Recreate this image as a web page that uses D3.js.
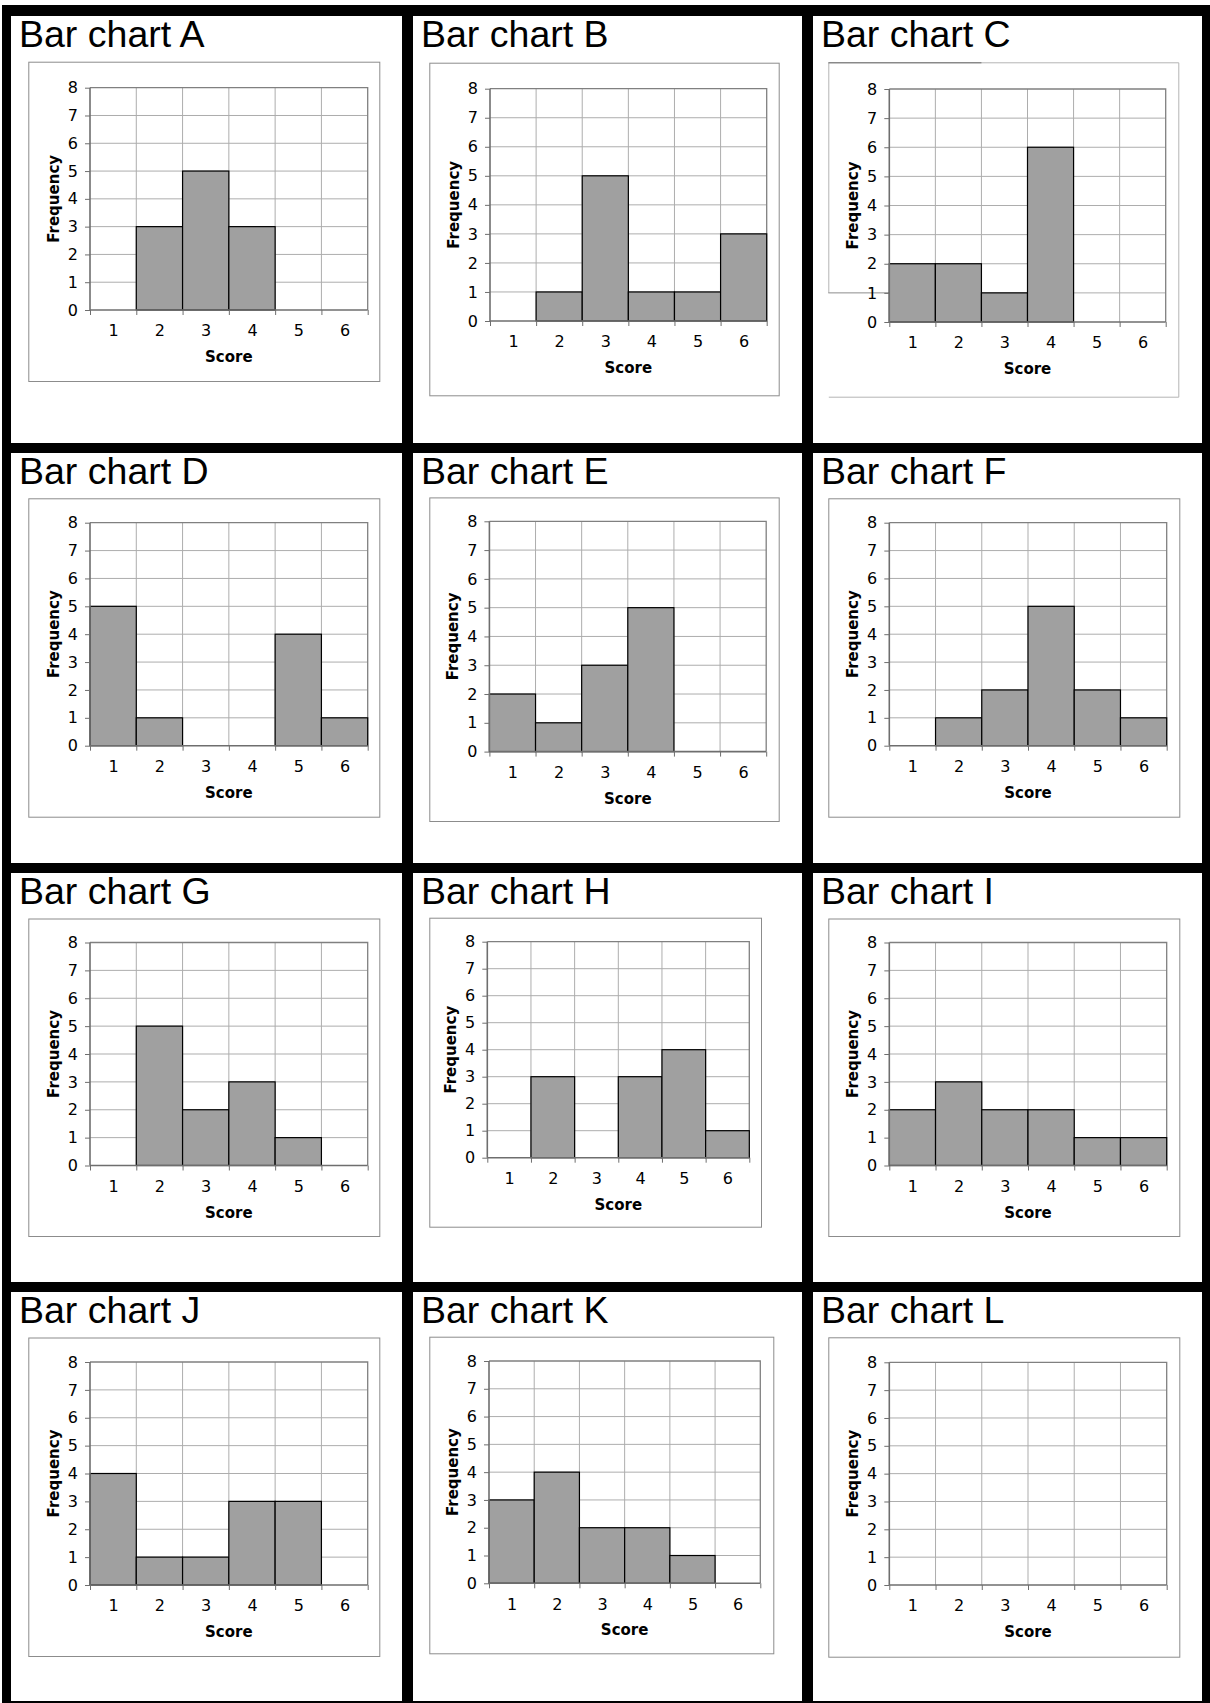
<!DOCTYPE html>
<html><head><meta charset="utf-8">
<script src="https://cdn.jsdelivr.net/npm/d3@7"></script>
<style>body{margin:0;background:#fff}svg{display:block}</style>
</head><body>
<svg id="c" width="1210" height="1703"></svg>
<script>
// ---- data ----
const scores = [1, 2, 3, 4, 5, 6];
const yTicks = [0, 1, 2, 3, 4, 5, 6, 7, 8];
const chartNames = ["A","B","C","D","E","F","G","H","I","J","K","L"];
const freqA = [0, 3, 5, 3, 0, 0];
const freqB = [0, 1, 5, 1, 1, 3];
const freqC = [2, 2, 1, 6, 0, 0];
const freqD = [5, 1, 0, 0, 4, 1];
const freqE = [2, 1, 3, 5, 0, 0];
const freqF = [0, 1, 2, 5, 2, 1];
const freqG = [0, 5, 2, 3, 1, 0];
const freqH = [0, 3, 0, 3, 4, 1];
const freqI = [2, 3, 2, 2, 1, 1];
const freqJ = [4, 1, 1, 3, 3, 0];
const freqK = [3, 4, 2, 2, 1, 0];
const freqL = [0, 0, 0, 0, 0, 0];
const xTitle = "Score";
const yTitle = "Frequency";

// ---- layout ----
const series = [freqA,freqB,freqC,freqD,freqE,freqF,freqG,freqH,freqI,freqJ,freqK,freqL];
const colX = [[11, 402], [413, 802], [813, 1202]];
const rowY = [[16, 443], [453, 863], [873, 1282], [1292, 1701]];
// frame [x0,y0,x1,y1], plot [x0,y0,x1,y1]
const layout = [
  {frame:[28.3, 61.7, 379.3, 381],   plot:[90, 87.7, 367.7, 310]},
  {frame:[429.3, 62.7, 778.7, 395.3], plot:[490, 88.7, 766.7, 321]},
  {frame:[828.3, 62.3, 1178.3, 396.7], plot:[889.3, 89, 1165.7, 322], odd:true},
  {frame:[28.3, 498.3, 379.3, 816.7], plot:[90, 522.7, 367.7, 745.7]},
  {frame:[429.3, 497.4, 778.7, 821],  plot:[489.4, 521.3, 766.2, 751.6]},
  {frame:[828.3, 498.3, 1179.3, 816.7], plot:[889.3, 522.7, 1166.7, 745.7]},
  {frame:[28.3, 918.5, 379.3, 1236],  plot:[90, 942.5, 367.7, 1165.5]},
  {frame:[429.3, 917.7, 761, 1226.7], plot:[487.3, 941.7, 749.3, 1157.7]},
  {frame:[828.3, 918.5, 1179.3, 1236], plot:[889.3, 942.5, 1166.7, 1165.5]},
  {frame:[28.3, 1337.5, 379.3, 1656], plot:[90, 1362, 367.7, 1585]},
  {frame:[429.3, 1336.7, 773.3, 1653.3], plot:[489, 1361, 760.3, 1583.3]},
  {frame:[828.3, 1337.3, 1179.3, 1656.7], plot:[889.3, 1362.3, 1166.7, 1585]}
];

const svg = d3.select("#c");
// black background grid
svg.append("rect").attr("x", 2).attr("y", 5).attr("width", 1208).attr("height", 1698).attr("fill", "#000");

const tickFont = "Verdana, 'DejaVu Sans', sans-serif";

chartNames.forEach((name, idx) => {
  const col = idx % 3, row = Math.floor(idx / 3);
  const [cx0, cx1] = colX[col], [cy0, cy1] = rowY[row];
  const g = svg.append("g");
  g.append("rect").attr("x", cx0).attr("y", cy0).attr("width", cx1 - cx0).attr("height", cy1 - cy0).attr("fill", "#fff");
  g.append("text").attr("x", cx0 + 8).attr("y", cy0 + 30.5)
    .attr("font-family", "'Liberation Sans', Arial, sans-serif").attr("font-size", 37.5)
    .attr("fill", "#000").text("Bar chart " + name);

  const L = layout[idx];
  const [fx0, fy0, fx1, fy1] = L.frame;
  const [px0, py0, px1, py1] = L.plot;

  // outer chart frame
  if (!L.odd) {
    g.append("rect").attr("x", fx0 + 0.5).attr("y", fy0 + 0.5).attr("width", fx1 - fx0).attr("height", fy1 - fy0)
      .attr("fill", "#fff").attr("stroke", "#8c8c8c").attr("stroke-width", 1);
  } else {
    g.append("rect").attr("x", fx0).attr("y", fy0).attr("width", fx1 - fx0).attr("height", fy1 - fy0).attr("fill", "#fff");
  }

  const x = d3.scaleLinear().domain([0.5, 6.5]).range([px0, px1]);
  const y = d3.scaleLinear().domain([0, 8]).range([py1, py0]);

  if (L.odd) {
    const yOne = y(1);
    g.append("path").attr("fill", "none").attr("stroke", "#b4b4b4").attr("stroke-width", 1)
      .attr("d", `M${fx0 + 0.5},${yOne}V${fy0 + 0.5}H${fx1 + 0.5}V${fy1 + 0.5}H${fx0 + 0.5}`);
    g.append("line").attr("x1", fx0).attr("x2", x(2.5)).attr("y1", fy0 + 0.5).attr("y2", fy0 + 0.5)
      .attr("stroke", "#6e6e6e");
    g.append("line").attr("x1", fx0).attr("x2", px0).attr("y1", yOne).attr("y2", yOne)
      .attr("stroke", "#8c8c8c");
  }

  // gridlines
  const grid = g.append("g").attr("stroke", "#adadad").attr("stroke-width", 1);
  grid.selectAll("line.h").data(yTicks.slice(1, -1)).join("line")
    .attr("x1", px0).attr("x2", px1).attr("y1", d => y(d)).attr("y2", d => y(d));
  grid.selectAll("line.v").data(scores.slice(0, -1)).join("line")
    .attr("y1", py0).attr("y2", py1).attr("x1", d => x(d + 0.5)).attr("x2", d => x(d + 0.5));
  // plot border top/right
  g.append("path").attr("fill", "none").attr("stroke", "#808080").attr("stroke-width", 1.3)
    .attr("d", `M${px0},${py0}H${px1}V${py1}`);

  // bars
  g.append("g").selectAll("rect").data(series[idx].map((v, i) => ({s: scores[i], v})).filter(d => d.v > 0))
    .join("rect")
    .attr("x", d => x(d.s - 0.5)).attr("width", d => x(d.s + 0.5) - x(d.s - 0.5))
    .attr("y", d => y(d.v)).attr("height", d => y(0) - y(d.v))
    .attr("fill", "#a0a0a0").attr("stroke", "#000").attr("stroke-width", 1.2);

  // y axis
  const ya = g.append("g").attr("transform", `translate(${px0},0)`)
    .call(d3.axisLeft(y).tickValues(yTicks).tickSize(5).tickPadding(7).tickFormat(d3.format("d")));
  ya.select(".domain").attr("stroke", "#6e6e6e").attr("stroke-width", 1.6).attr("d", `M0,${py0}V${py1}`);
  ya.selectAll(".tick line").attr("stroke", "#6e6e6e");
  ya.selectAll(".tick text").attr("font-family", tickFont).attr("font-size", 16).attr("fill", "#000");

  // x axis: boundary tick marks
  const xb = g.append("g").attr("transform", `translate(0,${py1})`)
    .call(d3.axisBottom(x).tickValues([0.5,1.5,2.5,3.5,4.5,5.5,6.5]).tickSize(5).tickFormat(""));
  xb.select(".domain").attr("stroke", "#6e6e6e").attr("stroke-width", 1.6).attr("d", `M${px0},0H${px1}`);
  xb.selectAll(".tick line").attr("stroke", "#6e6e6e");
  // x axis: labels at centres
  const xl = g.append("g").attr("transform", `translate(0,${py1})`)
    .call(d3.axisBottom(x).tickValues(scores).tickSize(0).tickPadding(15).tickFormat(d3.format("d")));
  xl.select(".domain").remove();
  xl.selectAll(".tick text").attr("font-family", tickFont).attr("font-size", 16).attr("fill", "#000");

  // axis titles
  g.append("text").attr("x", (px0 + px1) / 2).attr("y", py1 + 52).attr("text-anchor", "middle")
    .attr("font-family", tickFont).attr("font-weight", "bold").attr("font-size", 15).text(xTitle);
  g.append("text").attr("transform", `translate(${px0 - 31},${(py0 + py1) / 2}) rotate(-90)`)
    .attr("text-anchor", "middle")
    .attr("font-family", tickFont).attr("font-weight", "bold").attr("font-size", 15).text(yTitle);
});
</script>
</body></html>
